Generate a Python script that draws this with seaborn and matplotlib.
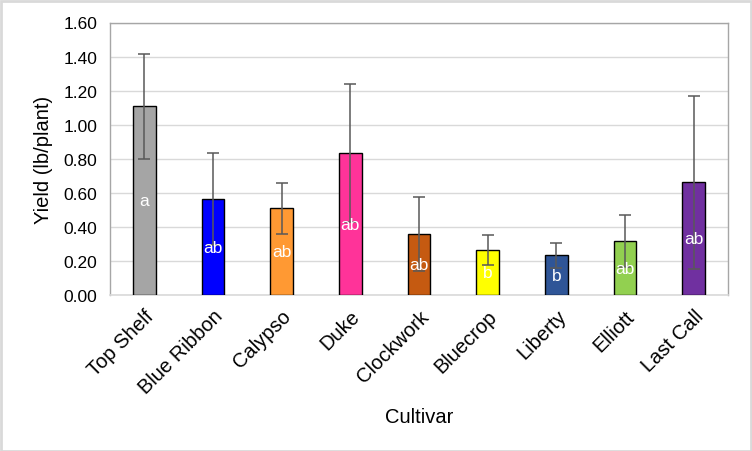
import matplotlib
matplotlib.use("Agg")
import matplotlib.pyplot as plt
import seaborn as sns
import pandas as pd
from matplotlib.patches import Rectangle

cultivars = ["Top Shelf", "Blue Ribbon", "Calypso", "Duke", "Clockwork",
             "Bluecrop", "Liberty", "Elliott", "Last Call"]
yields = [1.107, 0.561, 0.508, 0.831, 0.356, 0.262, 0.233, 0.315, 0.661]
errors = [0.310, 0.270, 0.147, 0.405, 0.217, 0.088, 0.075, 0.152, 0.510]
letters = ["a", "ab", "ab", "ab", "ab", "b", "b", "ab", "ab"]
colors = ["#A5A5A5", "#0000FF", "#FF9933", "#FF3399", "#C55A11",
          "#FFFF00", "#2F5597", "#92D050", "#7030A0"]
yticks = [0.0, 0.2, 0.4, 0.6, 0.8, 1.0, 1.2, 1.4, 1.6]

df = pd.DataFrame({"Cultivar": cultivars, "Yield": yields})

sns.set_theme(style="white")
plt.rcParams["font.family"] = ["Liberation Sans", "DejaVu Sans"]

fig = plt.figure(figsize=(7.52, 4.52), dpi=100)
ax = fig.add_axes([110/752, 1 - 296/452, (728 - 110)/752, (296 - 23.5)/452])

sns.barplot(data=df, x="Cultivar", y="Yield", hue="Cultivar",
            palette=colors, order=cultivars, hue_order=cultivars,
            width=0.33, edgecolor="black", linewidth=1.0, saturation=1,
            legend=False, ax=ax, zorder=3)

ax.errorbar(range(len(cultivars)), yields, yerr=errors, fmt="none",
            ecolor="#595959", elinewidth=1.1, capsize=4, capthick=1.1,
            zorder=4)

for i, (v, t) in enumerate(zip(yields, letters)):
    ax.text(i, v / 2, t, ha="center", va="center", color="white",
            fontsize=12.5, zorder=5)

ax.set_ylim(0, 1.6)
ax.set_xlim(-0.5, len(cultivars) - 0.5)
ax.set_yticks(yticks)
ax.set_yticklabels([f"{t:.2f}" for t in yticks], fontsize=12.5, color="black")
ax.yaxis.grid(True, color="#D9D9D9", linewidth=1.0, zorder=0)
ax.set_axisbelow(True)
ax.tick_params(axis="y", length=0, pad=9)
ax.tick_params(axis="x", length=0, pad=8)
ax.set_xticks(range(len(cultivars)))
ax.set_xticklabels(cultivars, rotation=45, ha="right",
                   rotation_mode="anchor", fontsize=14.5, color="black")

ax.set_ylabel("Yield (lb/plant)", fontsize=14.5, color="black", labelpad=8)
ax.set_xlabel("Cultivar", fontsize=14.5, color="black", labelpad=7)

for side in ["top", "right", "left"]:
    ax.spines[side].set_color("#A6A6A6")
    ax.spines[side].set_linewidth(1.0)
ax.spines["bottom"].set_color("#D9D9D9")
ax.spines["bottom"].set_linewidth(1.2)

fig.patches.append(Rectangle((0.5/752, 0.5/452), 1 - 2.0/752, 1 - 2.0/452,
                             transform=fig.transFigure, fill=False,
                             edgecolor="#D9D9D9", linewidth=2.0))

fig.savefig("out.png", dpi=100, facecolor="white")
